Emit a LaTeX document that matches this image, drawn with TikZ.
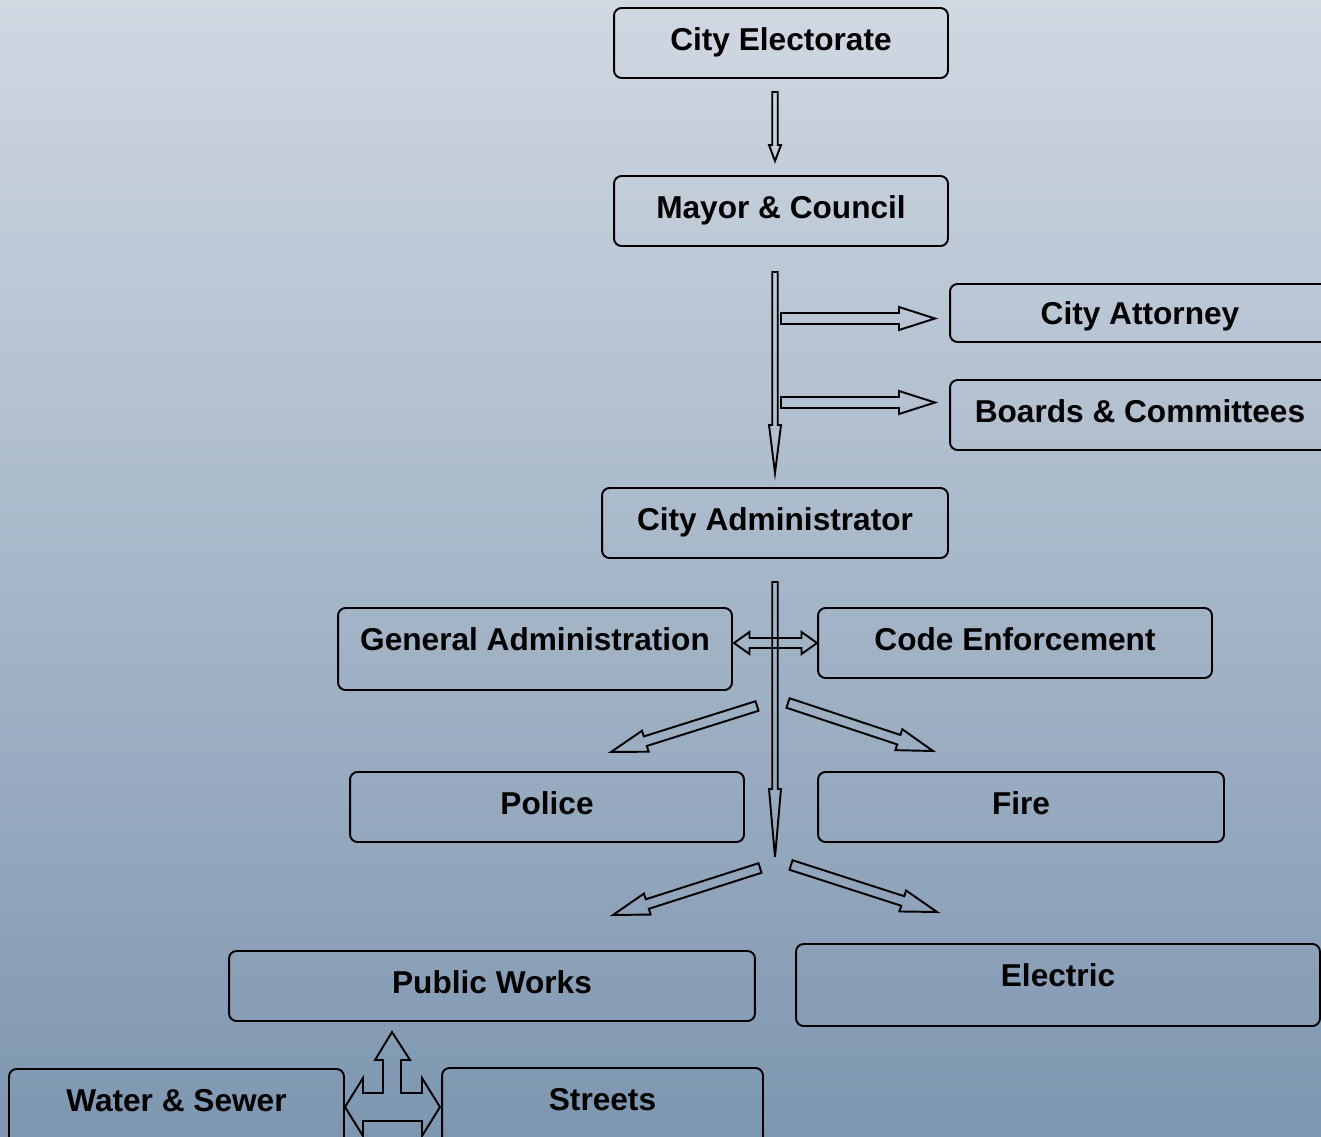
\documentclass[tikz,border=0pt]{standalone}
\usepackage{fontspec}
\setmainfont{Liberation Sans}
\usetikzlibrary{calc}

\definecolor{bgtop}{RGB}{208,216,226}
\definecolor{bgbot}{RGB}{126,150,176}

% hollow block arrow: tail, tip, half shaft, half head, head length
\newcommand\blockarrow[5]{%
  \coordinate (hb) at ($(#2)!#5!(#1)$);
  \draw[blockline] ($(#1)!#3!90:(#2)$) -- ($(hb)!#3!90:(#2)$) -- ($(hb)!#4!90:(#2)$)
    -- (#2) -- ($(hb)!#4!-90:(#2)$) -- ($(hb)!#3!-90:(#2)$) -- ($(#1)!#3!-90:(#2)$) -- cycle;
}
% hollow arrow with a head at both ends
\newcommand\twowayarrow[5]{%
  \coordinate (ha) at ($(#1)!#5!(#2)$);
  \coordinate (hb) at ($(#2)!#5!(#1)$);
  \draw[blockline] (#1) -- ($(ha)!#4!90:(#2)$) -- ($(ha)!#3!90:(#2)$) -- ($(hb)!#3!90:(#2)$)
    -- ($(hb)!#4!90:(#2)$) -- (#2) -- ($(hb)!#4!-90:(#2)$) -- ($(hb)!#3!-90:(#2)$)
    -- ($(ha)!#3!-90:(#2)$) -- ($(ha)!#4!-90:(#2)$) -- cycle;
}

\begin{document}
\begin{tikzpicture}[x=0.02cm,y=-0.02cm,
  box/.style={draw, line width=1.1pt, rounded corners=0.15cm, inner sep=0pt,
    text height=13pt, text depth=4.6pt, font=\fontsize{18}{21}\selectfont\bfseries},
  lowtext/.style={text depth=11.4pt},
  midtext/.style={text depth=0pt},
  blockline/.style={draw, line width=1.1pt, line join=miter}]

  \clip (0,0) rectangle (1321,1136);
  \shade[top color=bgtop, bottom color=bgbot] (0,0) rectangle (1321,1136);

  \node[box, minimum width=6.68cm, minimum height=1.4cm] (ce) at (781,43) {City Electorate};
  \node[box, minimum width=6.68cm, minimum height=1.4cm] (mc) at (781,211) {Mayor \& Council};
  \node[box, midtext, minimum width=7.6cm, minimum height=1.16cm] (ca) at (1140,313) {City Attorney};
  \node[box, minimum width=7.6cm, minimum height=1.4cm] (bc) at (1140,415) {Boards \& Committees};
  \node[box, minimum width=6.92cm, minimum height=1.4cm] (cadm) at (775,523) {City Administrator};
  \node[box, lowtext, minimum width=7.88cm, minimum height=1.64cm] (ga) at (535,649) {General Administration};
  \node[box, minimum width=7.88cm, minimum height=1.4cm] (cenf) at (1015,643) {Code Enforcement};
  \node[box, minimum width=7.88cm, minimum height=1.4cm] (pol) at (547,807) {Police};
  \node[box, minimum width=8.12cm, minimum height=1.4cm] (fire) at (1021,807) {Fire};
  \node[box, minimum width=10.52cm, minimum height=1.4cm] (pw) at (492,986) {Public Works};
  \node[box, lowtext, minimum width=10.48cm, minimum height=1.64cm] (el) at (1058,985) {Electric};
  \node[box, lowtext, minimum width=6.7cm, minimum height=1.64cm] (ws) at (176.5,1110) {Water \& Sewer};
  \node[box, lowtext, minimum width=6.42cm, minimum height=1.64cm] (st) at (602.5,1109) {Streets};

  \coordinate (a1s) at (775,92);
  \coordinate (a1e) at (775,161);
  \coordinate (a2s) at (775,272);
  \coordinate (a2e) at (775,473);
  \coordinate (a3s) at (781,318.5);
  \coordinate (a3e) at (935,318.5);
  \coordinate (a4s) at (781,402.5);
  \coordinate (a4e) at (935,402.5);
  \coordinate (a5s) at (775,582);
  \coordinate (a5e) at (775,857);
  \coordinate (a6s) at (734,643);
  \coordinate (a6e) at (817,643);
  \coordinate (a7s) at (757,706);
  \coordinate (a7e) at (611,752);
  \coordinate (a8s) at (788,703);
  \coordinate (a8e) at (933,751);
  \coordinate (a9s) at (760,868);
  \coordinate (a9e) at (613,915);
  \coordinate (a10s) at (791,865);
  \coordinate (a10e) at (937,912);

  \blockarrow{a1s}{a1e}{0.055cm}{0.12cm}{0.32cm}
  \blockarrow{a2s}{a2e}{0.055cm}{0.12cm}{0.96cm}
  \blockarrow{a3s}{a3e}{0.11cm}{0.23cm}{0.72cm}
  \blockarrow{a4s}{a4e}{0.11cm}{0.23cm}{0.72cm}
  \blockarrow{a5s}{a5e}{0.055cm}{0.12cm}{1.36cm}
  \twowayarrow{a6s}{a6e}{0.1cm}{0.22cm}{0.31cm}
  \blockarrow{a7s}{a7e}{0.1cm}{0.22cm}{0.72cm}
  \blockarrow{a8s}{a8e}{0.1cm}{0.22cm}{0.72cm}
  \blockarrow{a9s}{a9e}{0.1cm}{0.22cm}{0.72cm}
  \blockarrow{a10s}{a10e}{0.1cm}{0.22cm}{0.72cm}

  \draw[blockline] (392,1032) -- (410,1060) -- (401,1060) -- (401,1093) -- (422,1093)
    -- (422,1078) -- (440,1107) -- (422,1136) -- (422,1121) -- (363,1121) -- (363,1136)
    -- (345,1107) -- (363,1078) -- (363,1093) -- (383,1093) -- (383,1060) -- (375,1060) -- cycle;
\end{tikzpicture}
\end{document}
